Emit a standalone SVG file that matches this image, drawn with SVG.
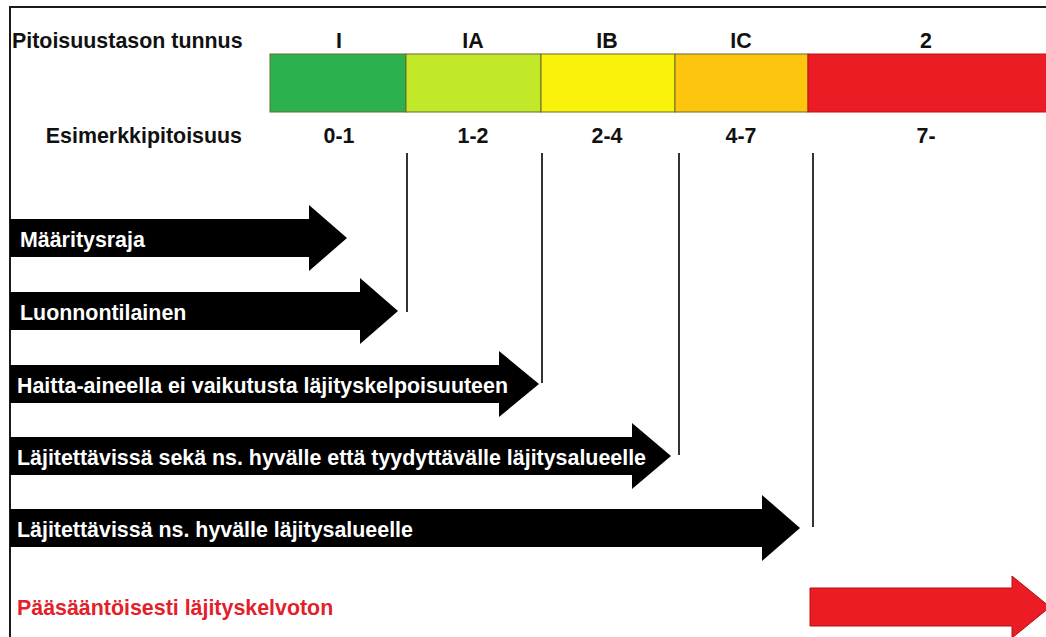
<svg xmlns="http://www.w3.org/2000/svg" width="1046" height="637" viewBox="0 0 1046 637">
  <style>
    .lbl { font-family: "Liberation Sans", Arial, sans-serif; font-weight: bold; font-size: 21.4px; fill: #111; }
    .mid { text-anchor: middle; }
    .end { text-anchor: end; }
    .atxt { font-family: "Liberation Sans", Arial, sans-serif; font-weight: bold; font-size: 21.4px; fill: #fff; }
    .red-txt { font-family: "Liberation Sans", Arial, sans-serif; font-weight: bold; font-size: 21.4px; fill: #e3202a; }
    .arrow { fill: #000; }
    .seg { stroke: #6b6b2a; stroke-width: 1; }
    .divider { stroke: #333; stroke-width: 2; }
  </style>

  <rect width="1046" height="637" fill="#fff"/>
  <!-- outer frame -->
  <rect x="10" y="7" width="1100" height="700" fill="none" stroke="#1a1a1a" stroke-width="2"/>

  <!-- header labels -->
  <g id="header">
    <text class="lbl" x="12" y="48">Pitoisuustason tunnus</text>
    <text class="lbl end" x="242" y="143">Esimerkkipitoisuus</text>
  </g>

  <!-- concentration scale -->
  <g id="level-I">
    <rect class="seg" x="270" y="54" width="136" height="58" fill="#2bb24f"/>
    <text class="lbl mid" x="339" y="48">I</text>
    <text class="lbl mid" x="339" y="143">0-1</text>
  </g>
  <g id="level-IA">
    <rect class="seg" x="406" y="54" width="135" height="58" fill="#c2e82a"/>
    <text class="lbl mid" x="473" y="48">IA</text>
    <text class="lbl mid" x="473" y="143">1-2</text>
  </g>
  <g id="level-IB">
    <rect class="seg" x="541" y="54" width="134" height="58" fill="#fbf20c"/>
    <text class="lbl mid" x="607" y="48">IB</text>
    <text class="lbl mid" x="607" y="143">2-4</text>
  </g>
  <g id="level-IC">
    <rect class="seg" x="675" y="54" width="133" height="58" fill="#fdc50e"/>
    <text class="lbl mid" x="741" y="48">IC</text>
    <text class="lbl mid" x="741" y="143">4-7</text>
  </g>
  <g id="level-2">
    <rect x="808" y="54" width="250" height="58" fill="#ec1c24" stroke="#c01018" stroke-width="1"/>
    <text class="lbl mid" x="926" y="48">2</text>
    <text class="lbl mid" x="926" y="143">7-</text>
  </g>

  <!-- limit lines from the scale down to each arrow tip -->
  <g id="connectors">
    <line class="divider" x1="407" y1="153" x2="407" y2="312"/>
    <line class="divider" x1="542" y1="153" x2="542" y2="383"/>
    <line class="divider" x1="679" y1="153" x2="679" y2="455"/>
    <line class="divider" x1="813" y1="153" x2="813" y2="527"/>
  </g>

  <!-- range arrows -->
  <g id="arrow-maaritysraja">
    <polygon class="arrow" points="10,219 309,219 309,205 347,238 309,271 309,257 10,257"/>
    <text class="atxt" x="20" y="247">Määritysraja</text>
  </g>
  <g id="arrow-luonnontilainen">
    <polygon class="arrow" points="10,292 360,292 360,278 398,311 360,344 360,330 10,330"/>
    <text class="atxt" x="20" y="320">Luonnontilainen</text>
  </g>
  <g id="arrow-haitta">
    <polygon class="arrow" points="10,365 499,365 499,351 539,384 499,417 499,403 10,403"/>
    <text class="atxt" x="17" y="393">Haitta-aineella ei vaikutusta läjityskelpoisuuteen</text>
  </g>
  <g id="arrow-hyva-tyydyttava">
    <polygon class="arrow" points="10,437 632,437 632,423 671,456 632,489 632,475 10,475"/>
    <text class="atxt" x="17" y="465">Läjitettävissä sekä ns. hyvälle että tyydyttävälle läjitysalueelle</text>
  </g>
  <g id="arrow-hyva">
    <polygon class="arrow" points="10,509 762,509 762,495 800,528 762,561 762,547 10,547"/>
    <text class="atxt" x="17" y="537">Läjitettävissä ns. hyvälle läjitysalueelle</text>
  </g>
  <g id="arrow-kelvoton">
    <polygon points="810,588 1012,588 1012,576 1050,607 1012,638 1012,626 810,626" fill="#ec1c24" stroke="#b0101a" stroke-width="1"/>
    <text class="red-txt" x="17" y="615">Pääsääntöisesti läjityskelvoton</text>
  </g>
</svg>
